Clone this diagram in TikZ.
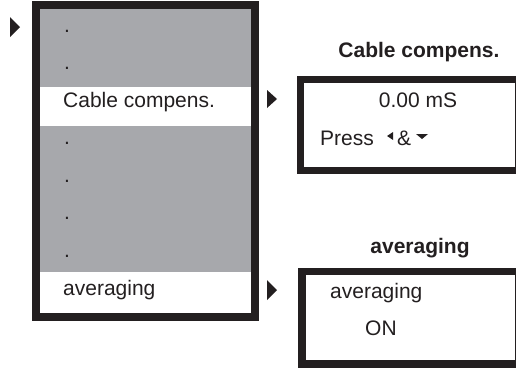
\documentclass[tikz,border=0pt]{standalone}
\usepackage{fontspec}
\setmainfont{Liberation Sans}
\definecolor{frame}{HTML}{231F20}
\definecolor{menugray}{HTML}{A7A8AC}
\tikzset{
  txt/.style={inner sep=0pt, anchor=base west, text=frame, font=\fontsize{21}{24}\selectfont},
  ttl/.style={inner sep=0pt, anchor=base, text=frame, font=\fontsize{21}{24}\selectfont\bfseries},
  ctxt/.style={inner sep=0pt, anchor=base, text=frame, font=\fontsize{21}{24}\selectfont},
  marker/.style={fill=frame, draw=none}
}
\begin{document}
\begin{tikzpicture}[x=1pt,y=-1pt]
\useasboundingbox (0,0) rectangle (516,367);
\clip (0,0) rectangle (516,367);
% main menu box
\fill[frame] (32,1) rectangle (259,321);
\fill[menugray] (40,9) rectangle (251,313);
\fill[white] (40,87) rectangle (251,126);
\fill[white] (40,272) rectangle (251,313);
\node[txt] (d1) at (64,32) {.};
\node[txt] (d2) at (64,69.5) {.};
\node[txt] (cab) at (63,107) {Cable compens.};
\node[txt] (d3) at (64,144.5) {.};
\node[txt] (d4) at (64,182) {.};
\node[txt] (d5) at (64,219.5) {.};
\node[txt] (d6) at (64,257) {.};
\node[txt] (avg) at (63,295) {averaging};
\fill[marker] (10,17) -- (10,37) -- (20,27) -- cycle;
% box 1
\node[ttl] (t1) at (419,57) {Cable compens.};
\fill[frame] (297,76) rectangle (520,174);
\fill[white] (304,83) rectangle (515,167);
\node[ctxt] (val) at (418,107) {0.00 mS};
\node[txt] (press) at (320,145) {Press};
\fill[marker] (393,132) -- (393,140) -- (387,136) -- cycle;
\node[txt] (amp) at (397,145) {\&};
\fill[marker] (416,134) -- (428,134) -- (422,139) -- cycle;
\fill[marker] (267,90) -- (267,108) -- (277,99) -- cycle;
% box 2
\node[ttl] (t2) at (420,253) {averaging};
\fill[frame] (298,268) rectangle (520,372);
\fill[white] (306,275) rectangle (515,360);
\node[txt] (avg2) at (330,298) {averaging};
\node[txt] (on) at (365,335) {ON};
\fill[marker] (267,280) -- (267,300) -- (277,290) -- cycle;
\end{tikzpicture}
\end{document}
